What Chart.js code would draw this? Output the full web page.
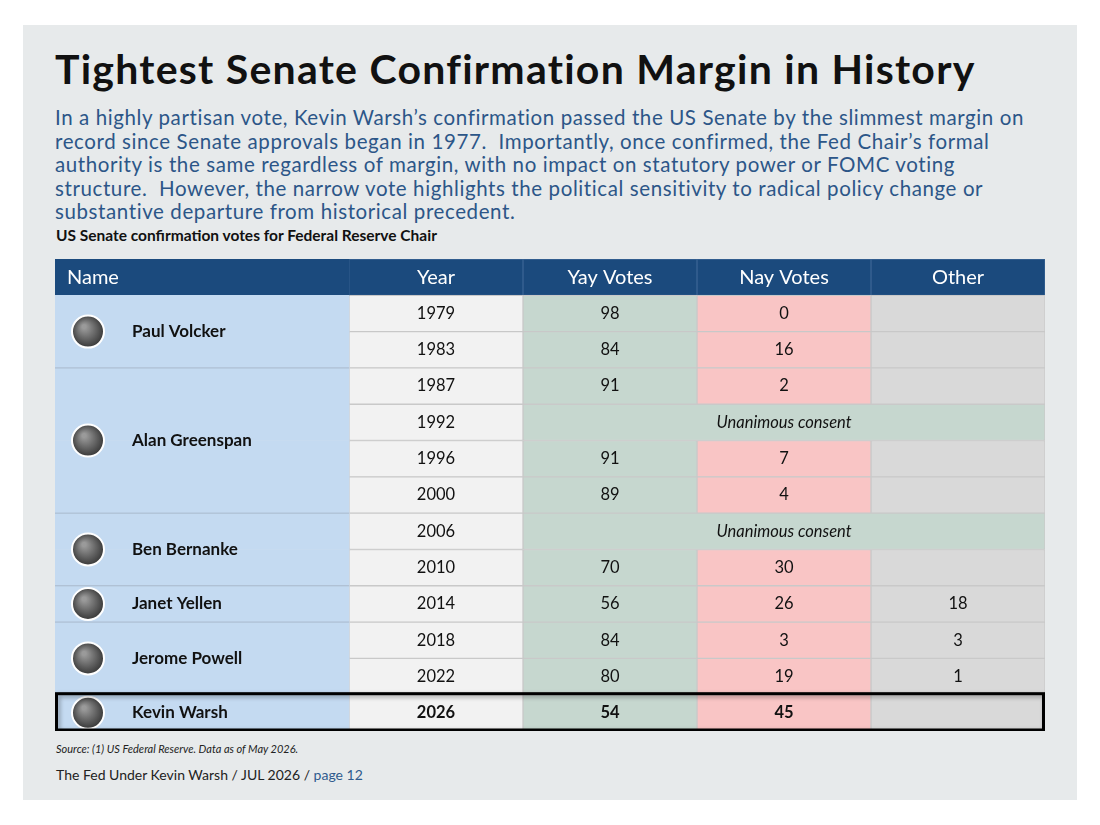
<!DOCTYPE html>
<html>
<head>
<meta charset="utf-8">
<script src="https://cdn.jsdelivr.net/npm/chart.js@4"></script>
<style>
  body { margin:0; background:#fff; font-family: Lato, "Open Sans", sans-serif; }
  #panel { position:absolute; left:23px; top:25px; width:1054px; height:775px; background:#e7eaeb; }
  h1 { position:absolute; left:55px; top:44px; margin:0; font-size:41px; font-weight:700; color:#111; letter-spacing:1.25px; }
  #sub { position:absolute; left:55px; top:106px; width:1000px; font-size:20.5px; line-height:23.5px; letter-spacing:0.6px; color:#2c5688; font-weight:400; }
  #cap { position:absolute; left:56px; top:226px; font-size:15.5px; font-weight:700; color:#111; }
  #src { position:absolute; left:56px; top:742px; font-size:11px; font-style:italic; color:#222; }
  #foot { position:absolute; left:56px; top:766px; font-size:14px; color:#222; }
  #foot span { color:#2f5b8e; }
  #wrap { position:absolute; left:55px; top:259px; width:990px; height:472px; }
</style>
</head>
<body>
<div id="panel"></div>
<h1>Tightest Senate Confirmation Margin in History</h1>
<div id="sub">In a highly partisan vote, Kevin Warsh’s confirmation passed the US Senate by the slimmest margin on record since Senate approvals began in 1977.&nbsp; Importantly, once confirmed, the Fed Chair’s formal authority is the same regardless of margin, with no impact on statutory power or FOMC voting structure.&nbsp; However, the narrow vote highlights the political sensitivity to radical policy change or substantive departure from historical precedent.</div>
<div id="cap">US Senate confirmation votes for Federal Reserve Chair</div>
<div id="wrap"><canvas id="tabela"></canvas></div>
<div id="src">Source: (1) US Federal Reserve. Data as of May 2026.</div>
<div id="foot">The Fed Under Kevin Warsh / JUL 2026 / <span>page 12</span></div>
<script>
// Dados da tabela
const cabecalho = ['Name', 'Year', 'Yay Votes', 'Nay Votes', 'Other'];
const anos = ['1979','1983','1987','1992','1996','2000','2006','2010','2014','2018','2022','2026'];
const votosSim = [98, 84, 91, null, 91, 89, null, 70, 56, 84, 80, 54];
const votosNao = [0, 16, 2, null, 7, 4, null, 30, 26, 3, 19, 45];
const outros = [null, null, null, null, null, null, null, null, 18, 3, 1, null];
const unanime = [false, false, false, true, false, false, true, false, false, false, false, false];
const presidentes = ['Paul Volcker', 'Alan Greenspan', 'Ben Bernanke', 'Janet Yellen', 'Jerome Powell', 'Kevin Warsh'];
const linhasPorPresidente = [2, 4, 2, 1, 2, 1];

const NOME_W = 294 / 174; // largura da coluna de nomes em unidades de coluna
const rotulos = ['header'].concat(anos);
const AZUL = '#1b4a7d', AZUL_CLARO = '#c4daf1';

function coluna(c, cores, pula) {
  return {
    data: rotulos.map((r, i) => (pula && pula(i)) ? null : [NOME_W + c, NOME_W + c + 1]),
    backgroundColor: rotulos.map((r, i) => i === 0 ? AZUL : cores),
    borderColor: rotulos.map((r, i) => i === 0 ? '#3a6494' : '#c9c9c9'),
    borderWidth: 1, borderSkipped: false,
    barPercentage: 1, categoryPercentage: 1, grouped: false
  };
}

const datasets = [
  { data: rotulos.map(() => [0, NOME_W]), backgroundColor: rotulos.map((r, i) => i === 0 ? AZUL : AZUL_CLARO),
    borderWidth: 0, barPercentage: 1, categoryPercentage: 1, grouped: false },
  coluna(0, '#f2f2f2'),
  { data: rotulos.map((r, i) => i > 0 && unanime[i - 1] ? [NOME_W + 1, NOME_W + 4] : [NOME_W + 1, NOME_W + 2]),
    backgroundColor: rotulos.map((r, i) => i === 0 ? AZUL : '#c6d7cf'),
    borderColor: rotulos.map((r, i) => i === 0 ? '#3a6494' : '#c9c9c9'),
    borderWidth: 1, borderSkipped: false, barPercentage: 1, categoryPercentage: 1, grouped: false },
  coluna(2, '#f9c5c5', i => i > 0 && unanime[i - 1]),
  coluna(3, '#d9d9d9', i => i > 0 && unanime[i - 1])
];

const textoPlugin = {
  id: 'textos',
  afterDatasetsDraw(chart) {
    const ctx = chart.ctx, x = chart.scales.x, y = chart.scales.y;
    const h = y.getPixelForValue(1) - y.getPixelForValue(0);
    const cx = c => (x.getPixelForValue(NOME_W + c) + x.getPixelForValue(NOME_W + c + 1)) / 2;
    ctx.save();
    ctx.textBaseline = 'middle';
    // cabeçalho
    ctx.fillStyle = '#fff';
    ctx.font = '20px Lato';
    ctx.textAlign = 'left';
    ctx.fillText(cabecalho[0], x.getPixelForValue(0) + 12, y.getPixelForValue(0));
    ctx.textAlign = 'center';
    for (let c = 1; c < 5; c++) ctx.fillText(cabecalho[c], cx(c - 1), y.getPixelForValue(0));
    // linhas
    anos.forEach((ano, i) => {
      const py = y.getPixelForValue(i + 1);
      const ult = i === anos.length - 1;
      ctx.fillStyle = '#111';
      ctx.font = (ult ? 'bold ' : '') + '16.5px Lato';
      ctx.fillText(ano, cx(0), py);
      if (unanime[i]) {
        ctx.font = 'italic 16.5px Lato';
        ctx.fillText('Unanimous consent', cx(2), py);
        return;
      }
      if (votosSim[i] !== null) ctx.fillText(votosSim[i], cx(1), py);
      if (votosNao[i] !== null) ctx.fillText(votosNao[i], cx(2), py);
      if (outros[i] !== null) ctx.fillText(outros[i], cx(3), py);
    });
    // presidentes
    let linha = 1;
    presidentes.forEach((nome, k) => {
      const n = linhasPorPresidente[k];
      const topo = y.getPixelForValue(linha) - h / 2;
      const meio = topo + n * h / 2;
      if (linha > 1) {
        ctx.strokeStyle = '#a9b9cc'; ctx.lineWidth = 1;
        ctx.beginPath(); ctx.moveTo(x.getPixelForValue(0), topo); ctx.lineTo(x.getPixelForValue(NOME_W), topo); ctx.stroke();
      }
      const px = x.getPixelForValue(0) + 33;
      const g = ctx.createRadialGradient(px - 4, meio - 5, 2, px, meio, 18);
      g.addColorStop(0, '#9a9a9a'); g.addColorStop(1, '#2e2e2e');
      ctx.fillStyle = g;
      ctx.beginPath(); ctx.arc(px, meio, 16, 0, Math.PI * 2); ctx.fill();
      ctx.strokeStyle = '#fff'; ctx.lineWidth = 2; ctx.stroke();
      ctx.fillStyle = '#111';
      ctx.font = 'bold 17px Lato';
      ctx.textAlign = 'left';
      ctx.fillText(nome, x.getPixelForValue(0) + 77, meio);
      ctx.textAlign = 'center';
      linha += n;
    });
    // destaque da última linha
    const yu = y.getPixelForValue(anos.length);
    ctx.shadowColor = 'rgba(0,0,0,0.35)'; ctx.shadowBlur = 4; ctx.shadowOffsetX = 2; ctx.shadowOffsetY = 2;
    ctx.strokeStyle = '#000'; ctx.lineWidth = 3;
    ctx.strokeRect(x.getPixelForValue(0) + 1.5, yu - h / 2 - 1, x.getPixelForValue(NOME_W + 4) - x.getPixelForValue(0) - 3, h);
    ctx.restore();
  }
};

new Chart(document.getElementById('tabela'), {
  type: 'bar',
  data: { labels: rotulos, datasets: datasets },
  options: {
    indexAxis: 'y', responsive: true, maintainAspectRatio: false, animation: false,
    layout: { padding: 0 },
    plugins: { legend: { display: false }, tooltip: { enabled: false } },
    scales: {
      x: { type: 'linear', min: 0, max: NOME_W + 4, display: false },
      y: { type: 'category', display: false, offset: true }
    }
  },
  plugins: [textoPlugin]
});
</script>
</body>
</html>
